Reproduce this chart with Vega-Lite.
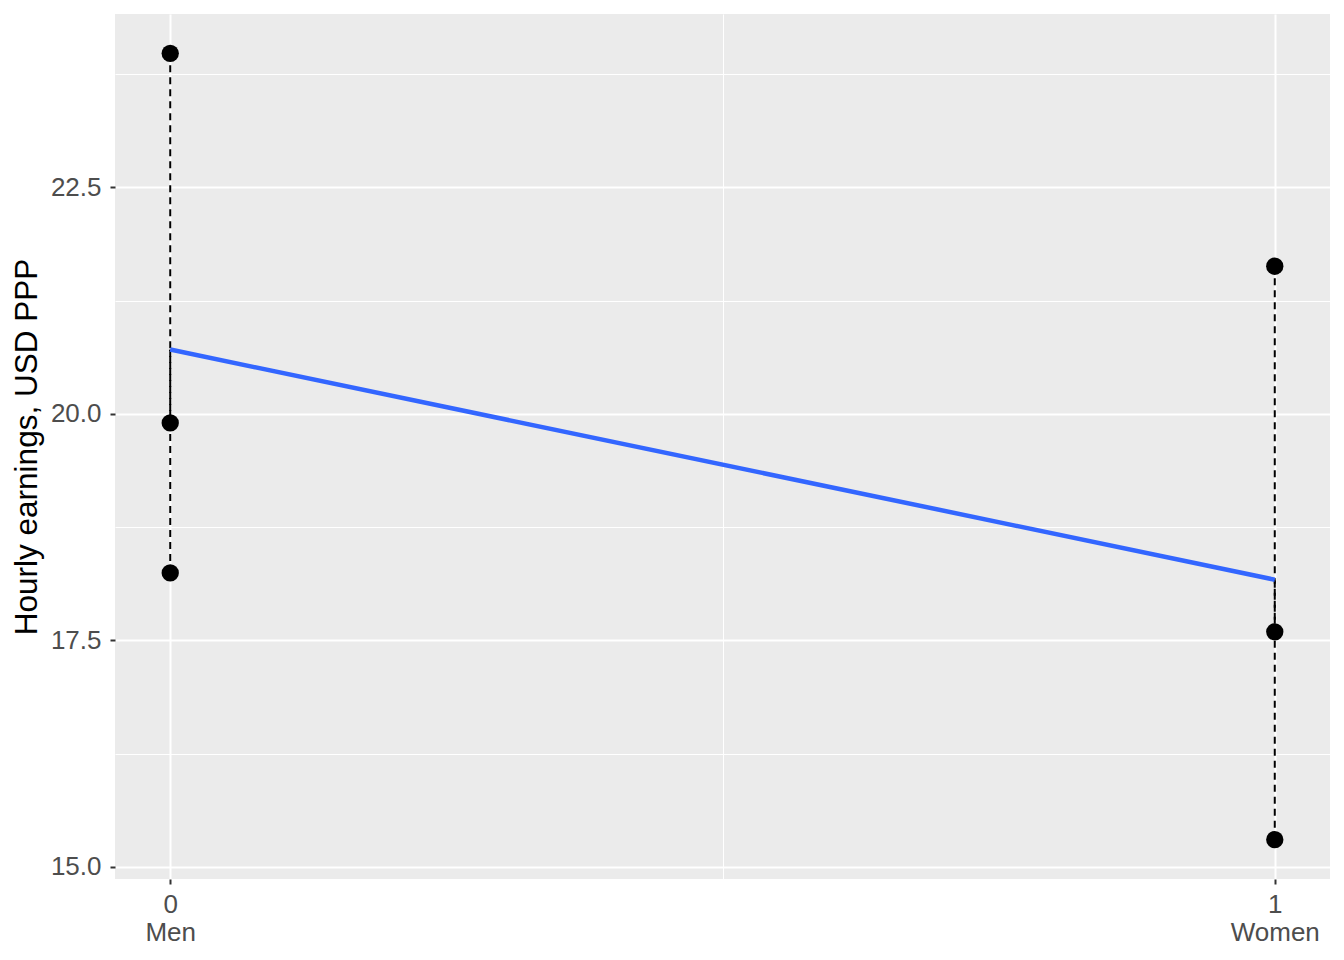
{
  "$schema": "https://vega.github.io/schema/vega-lite/v6.json",
  "width": 1215,
  "height": 865,
  "autosize": {"type": "none"},
  "padding": {"left": 115, "top": 14, "right": 14, "bottom": 81},
  "background": "white",
  "config": {
    "view": {"fill": "#EBEBEB", "stroke": null},
    "axis": {
      "domain": false,
      "gridColor": "white",
      "tickColor": "#333333",
      "tickWidth": 2,
      "tickSize": 5,
      "labelColor": "#4D4D4D",
      "labelFont": "Liberation Sans",
      "labelFontSize": 26,
      "titleFont": "Liberation Sans",
      "titleFontWeight": "normal",
      "titleColor": "black",
      "titleFontSize": 31.5
    }
  },
  "datasets": {
    "obs": [
      {"group": 0, "earnings": 23.98, "fitted": 20.71},
      {"group": 0, "earnings": 19.9, "fitted": 20.71},
      {"group": 0, "earnings": 18.245, "fitted": 20.71},
      {"group": 1, "earnings": 21.63, "fitted": 18.17},
      {"group": 1, "earnings": 17.594, "fitted": 18.17},
      {"group": 1, "earnings": 15.3, "fitted": 18.17}
    ],
    "fit": [
      {"group": 0, "fitted": 20.71},
      {"group": 1, "fitted": 18.17}
    ]
  },
  "layer": [
    {
      "data": {"name": "obs"},
      "mark": {"type": "rule", "color": "black", "strokeWidth": 2, "strokeDash": [7, 5]},
      "encoding": {
        "x": {
          "field": "group", "type": "quantitative",
          "scale": {"domain": [-0.05, 1.05], "nice": false, "zero": false},
          "axis": {
            "title": null,
            "values": [0, 0.5, 1],
            "labelExpr": "datum.value == 0 ? ['0', 'Men'] : datum.value == 1 ? ['1', 'Women'] : ''",
            "tickOpacity": {"condition": {"test": "datum.value == 0.5", "value": 0}, "value": 1},
            "gridWidth": {"condition": {"test": "datum.value == 0.5", "value": 1}, "value": 2},
            "labelPadding": 7,
            "labelLineHeight": 28,
            "labelBaseline": "top"
          }
        },
        "y": {
          "field": "earnings", "type": "quantitative",
          "scale": {"domain": [14.866, 24.414], "nice": false, "zero": false},
          "axis": {
            "title": "Hourly earnings, USD PPP",
            "values": [15, 16.25, 17.5, 18.75, 20, 21.25, 22.5, 23.75],
            "labelExpr": "datum.value % 2.5 == 0 ? format(datum.value, '.1f') : ''",
            "tickOpacity": {"condition": {"test": "datum.value % 2.5 == 0", "value": 1}, "value": 0},
            "gridWidth": {"condition": {"test": "datum.value % 2.5 == 0", "value": 2}, "value": 1},
            "labelPadding": 9,
            "titlePadding": 7
          }
        },
        "y2": {"field": "fitted"}
      }
    },
    {
      "data": {"name": "fit"},
      "mark": {"type": "line", "color": "#3366FF", "strokeWidth": 4.5},
      "encoding": {
        "x": {"field": "group", "type": "quantitative"},
        "y": {"field": "fitted", "type": "quantitative"}
      }
    },
    {
      "data": {"name": "obs"},
      "mark": {"type": "point", "filled": true, "color": "black", "opacity": 1, "size": 300},
      "encoding": {
        "x": {"field": "group", "type": "quantitative"},
        "y": {"field": "earnings", "type": "quantitative"}
      }
    }
  ]
}
